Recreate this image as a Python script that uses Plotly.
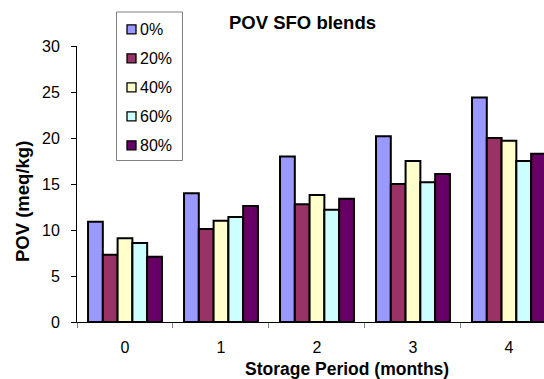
import plotly.graph_objects as go

# Storage period categories (months)
periods = ["0", "1", "2", "3", "4"]

# Peroxide value (meq/kg) for each SFO blend level
pov_0 = [10.9, 14.0, 18.0, 20.2, 24.4]
pov_20 = [7.3, 10.1, 12.8, 15.0, 20.0]
pov_40 = [9.1, 11.0, 13.8, 17.5, 19.7]
pov_60 = [8.6, 11.4, 12.2, 15.2, 17.5]
pov_80 = [7.1, 12.6, 13.4, 16.1, 18.3]

blend_names = ["0%", "20%", "40%", "60%", "80%"]
blend_values = [pov_0, pov_20, pov_40, pov_60, pov_80]
blend_colors = ["#9999FF", "#993366", "#FFFFCC", "#CCFFFF", "#660066"]

W, H = 544, 379
L, R, T, B = 77, 544, 46, 322  # plot area in pixels
FONT = "Liberation Sans, Arial, sans-serif"

fig = go.Figure()
for name, vals, col in zip(blend_names, blend_values, blend_colors):
    fig.add_trace(go.Bar(
        x=periods, y=vals, name=name,
        marker=dict(color=col, line=dict(color="black", width=2)),
        showlegend=False,
    ))


def px_x(p):
    return (p - L) / (R - L)


def px_y(p):
    return (B - p) / (B - T)


# Boxed legend: small outlined squares with labels
shapes = [dict(type="rect", xref="paper", yref="paper",
               x0=px_x(116.5), x1=px_x(182.5), y0=px_y(12), y1=px_y(160.5),
               line=dict(color="#808080", width=1), fillcolor="white", layer="above")]
annotations = []
for i, (name, col) in enumerate(zip(blend_names, blend_colors)):
    cy = 29.3 + 29 * i
    shapes.append(dict(type="rect", xref="paper", yref="paper",
                       x0=px_x(127), x1=px_x(136), y0=px_y(cy - 4.5), y1=px_y(cy + 4.5),
                       line=dict(color="black", width=1.3), fillcolor=col, layer="above"))
    annotations.append(dict(text=name, xref="paper", yref="paper",
                            x=px_x(138), y=px_y(cy), xanchor="left", yanchor="middle",
                            showarrow=False, font=dict(size=16)))

annotations += [
    dict(text="<b>POV SFO blends</b>", xref="paper", yref="paper",
         x=px_x(302), y=px_y(22), xanchor="center", yanchor="middle",
         showarrow=False, font=dict(size=18.5)),
    dict(text="<b>Storage Period (months)</b>", xref="paper", yref="paper",
         x=px_x(347), y=px_y(369), xanchor="center", yanchor="middle",
         showarrow=False, font=dict(size=17.5)),
    dict(text="<b>POV (meq/kg)</b>", xref="paper", yref="paper",
         x=px_x(22), y=px_y(202), xanchor="center", yanchor="middle",
         showarrow=False, textangle=-90, font=dict(size=18.5)),
]

fig.update_layout(
    width=W, height=H,
    margin=dict(l=L, r=W - R, t=T, b=H - B, pad=0),
    paper_bgcolor="white", plot_bgcolor="white",
    font=dict(family=FONT, color="black", size=16),
    barmode="group", bargap=0.23, bargroupgap=0,
    showlegend=False,
    xaxis=dict(
        type="category", range=[-0.5, 4.365],
        showline=True, linecolor="black", linewidth=1,
        ticks="outside", tickson="boundaries", ticklen=5, tickcolor="#808080",
        showgrid=False, tickfont=dict(size=16), zeroline=False,
        ticklabelstandoff=11,
    ),
    yaxis=dict(
        range=[0, 30], tickvals=[0, 5, 10, 15, 20, 25, 30],
        showline=True, linecolor="black", linewidth=1,
        ticks="outside", ticklen=5, tickcolor="black",
        showgrid=False, zeroline=False, tickfont=dict(size=16),
        ticklabelstandoff=8,
    ),
    shapes=shapes,
    annotations=annotations,
)

fig.write_html("out.html")
